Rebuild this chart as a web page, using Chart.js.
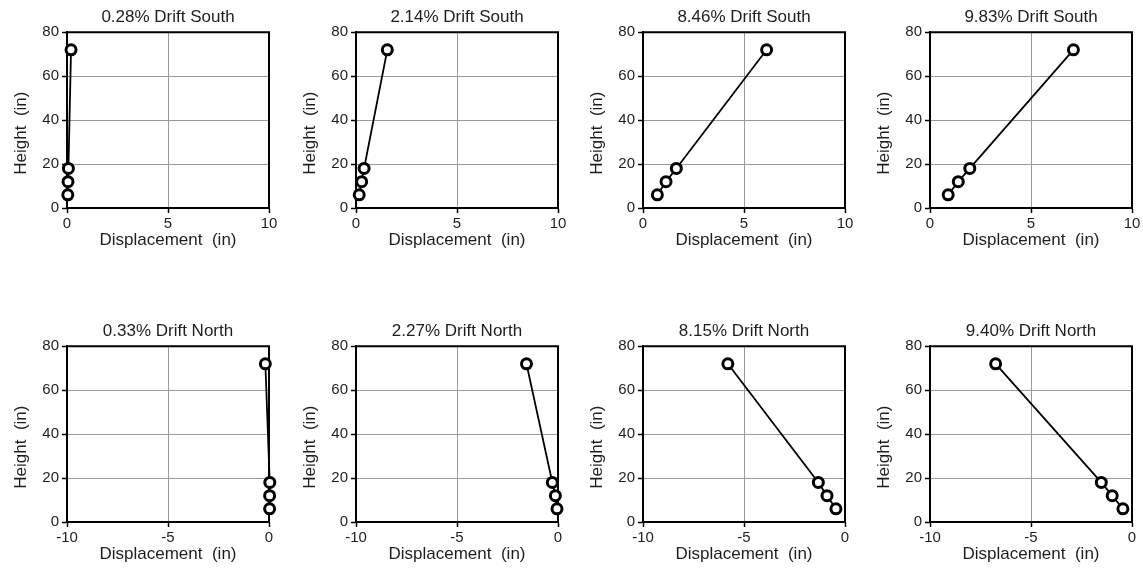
<!DOCTYPE html>
<html>
<head>
<meta charset="utf-8">
<script src="https://cdn.jsdelivr.net/npm/chart.js@4/dist/chart.umd.min.js"></script>
<style>
  html,body{margin:0;padding:0;background:#fff;}
  #wrap{position:relative;width:1143px;height:580px;overflow:hidden;}
  #wrap canvas{position:absolute;}
</style>
</head>
<body>
<div id="wrap"></div>
<script>
/* story heights shared by every panel */
const heights = [6, 12, 18, 72];

/* panel titles, top row then bottom row */
const titles = [
  '0.28% Drift South', '2.14% Drift South', '8.46% Drift South', '9.83% Drift South',
  '0.33% Drift North', '2.27% Drift North', '8.15% Drift North', '9.40% Drift North'
];

/* displacement (in) at each height */
const south028 = [0.04, 0.05, 0.07, 0.20];
const south214 = [0.16, 0.28, 0.40, 1.55];
const south846 = [0.71, 1.14, 1.65, 6.12];
const south983 = [0.90, 1.40, 1.97, 7.10];
const north033 = [0.03, 0.03, 0.04, -0.18];
const north227 = [-0.05, -0.13, -0.28, -1.56];
const north815 = [-0.45, -0.89, -1.32, -5.80];
const north940 = [-0.45, -0.98, -1.52, -6.75];

const southTicks = [0, 5, 10];
const northTicks = [-10, -5, 0];
const heightTicks = [0, 20, 40, 60, 80];

const displacements = [south028, south214, south846, south983, north033, north227, north815, north940];

// canvas position of each panel (left, top)
const lefts = [9, 298, 585, 872];
const tops = [2, 316];
const W = 272, H = 250;

const FONT = "'Liberation Sans', Arial, sans-serif";
const TXT = '#1e1e1e';

// black frame round the plot area
const frame = {
  id: 'frame',
  beforeDatasetsDraw(chart){
    const a = chart.chartArea, c = chart.ctx;
    c.save();
    c.strokeStyle = '#000';
    c.lineWidth = 2;
    c.strokeRect(a.left, a.top, a.right - a.left, a.bottom - a.top);
    c.restore();
  }
};

// y axis caption, sitting a little below the middle of the axis
const yCaption = {
  id: 'yCaption',
  afterDraw(chart){
    const s = chart.scales.y, c = chart.ctx;
    c.save();
    c.translate(s.left + 12, (s.top + s.bottom) / 2 + 13);
    c.rotate(-Math.PI / 2);
    c.font = '17px ' + FONT;
    c.fillStyle = TXT;
    c.textAlign = 'center';
    c.textBaseline = 'middle';
    c.fillText('Height  (in)', 0, 0);
    c.restore();
  }
};

displacements.forEach((disp, i) => {
  const row = Math.floor(i / 4), col = i % 4;
  const north = row === 1;
  const xt = north ? northTicks : southTicks;

  const cv = document.createElement('canvas');
  cv.width = W; cv.height = H;
  cv.style.left = lefts[col] + 'px';
  cv.style.top = tops[row] + 'px';
  document.getElementById('wrap').appendChild(cv);

  new Chart(cv.getContext('2d'), {
    type: 'scatter',
    data: {
      datasets: [{
        data: heights.map((h, k) => ({x: disp[k], y: h})),
        showLine: true,
        borderColor: '#000',
        borderWidth: 1.8,
        pointRadius: 5,
        pointBorderWidth: 3,
        pointBackgroundColor: '#fff',
        pointBorderColor: '#000',
        clip: false
      }]
    },
    options: {
      responsive: false,
      animation: false,
      layout: {padding: {left: 0, right: 12, top: 0, bottom: 0}},
      plugins: {
        legend: {display: false},
        tooltip: {enabled: false},
        title: {
          display: true,
          text: titles[i],
          fullSize: false,
          color: TXT,
          font: {family: FONT, size: 17, weight: 'normal', lineHeight: 1.25},
          padding: {top: 5, bottom: 4}
        }
      },
      scales: {
        x: {
          type: 'linear',
          min: xt[0], max: xt[2],
          afterBuildTicks: s => { s.ticks = xt.map(v => ({value: v})); },
          afterFit: s => { s.height = 44; },
          grid: {color: '#9a9a9a', lineWidth: 1, tickLength: 5, tickColor: '#000', tickWidth: 1.5},
          border: {display: true, color: '#000', width: 2},
          ticks: {color: TXT, font: {family: FONT, size: 15}, padding: 2, maxRotation: 0},
          title: {display: true, text: 'Displacement  (in)', color: TXT,
                  font: {family: FONT, size: 17}, padding: {top: 0, bottom: 1}}
        },
        y: {
          type: 'linear',
          min: 0, max: 80,
          afterBuildTicks: s => { s.ticks = heightTicks.map(v => ({value: v})); },
          afterFit: s => { s.width = 58; },
          grid: {color: '#9a9a9a', lineWidth: 1, tickLength: 5, tickColor: '#000', tickWidth: 1.5},
          border: {display: true, color: '#000', width: 2},
          ticks: {color: TXT, font: {family: FONT, size: 15}, padding: 3},
          title: {display: false}
        }
      }
    },
    plugins: [frame, yCaption]
  });
});
</script>
</body>
</html>
